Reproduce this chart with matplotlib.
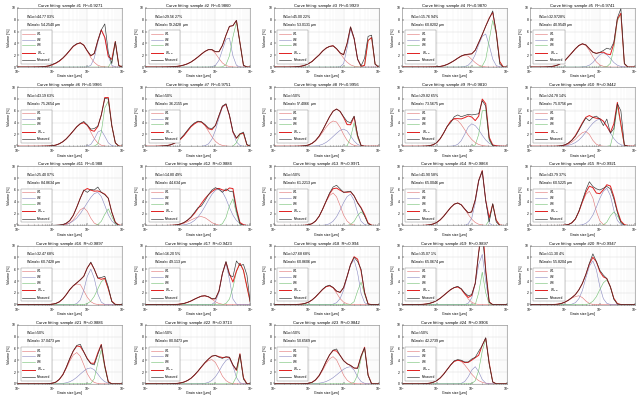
import numpy as np
import matplotlib
matplotlib.use('Agg')
import matplotlib.pyplot as plt

# size classes of the analyser, um
GRAIN = [1.0, 1.26, 1.58, 2.0, 2.51, 3.16, 3.98, 5.01, 6.31, 7.94,
         10.0, 12.6, 15.8, 20.0, 25.1, 31.6, 39.8, 50.1, 63.1, 79.4,
         100.0, 126.0, 158.0, 200.0, 251.0, 316.0, 398.0, 501.0, 631.0, 794.0, 1000.0]

R2 = ['0.9271', '0.9860', '0.9929', '0.9870', '0.9741', '0.9966', '0.9751', '0.9956',
      '0.9810', '0.9442', '0.988', '0.9884', '0.9971', '0.9868', '0.9921', '0.9897',
      '0.9423', '0.994', '0.9897', '0.9947', '0.9886', '0.9713', '0.9842', '0.9906']
W1_VOL = ['44.7703', '29.5627', '45.0022', '15.7694', '32.9728', '43.1963', '50', '50',
          '29.8265', '24.7814', '25.4007', '14.8049', '50', '41.9058', '43.7937', '32.4768',
          '16.205', '27.6868', '35.071', '11.304', '50', '50', '50', '50']
W1_MODE = ['54.2540', '59.2428', '53.0131', '60.8202', '40.9549', '75.2654', '36.2155', '57.4066',
           '73.5675', '75.0756', '84.8634', '44.634', '61.2213', '65.0046', '60.5225', '60.7428',
           '49.113', '60.8606', '65.0674', '55.8204', '37.0473', '80.0473', '50.6569', '42.2739']

# sample 1
meas01 = [0,0,0,0,0,.01,.02,.05,.1,.2,.45,.7,1.05,1.55,2.15,2.85,3.55,3.95,4.1,3.7,2.75,1.95,2.3,4.5,6.3,7.3,2.5,.6,4.3,.2,0]
w1_01 = [0,0,0,0,0,.01,.02,.05,.1,.2,.4,.65,1.0,1.5,2.1,2.8,3.5,3.9,4.1,3.7,2.7,1.6,.8,.3,.1,.03,0,0,0,0,0]
w2_01 = [0]*20 + [.02,.3,1.5,4.2,6.2,5.0,1.8,.3,.02,0,0]
w3_01 = [0]*27 + [1.0,4.3,.3,0]
# sample 2
meas02 = [0,0,0,0,0,.01,.02,.04,.07,.12,.2,.35,.55,.85,1.25,1.7,2.2,2.65,2.95,2.95,2.6,2.6,3.65,5.4,6.9,7.0,7.9,4.1,.3,0,0]
w1_02 = [0,0,0,0,0,.01,.02,.04,.07,.12,.2,.35,.55,.85,1.25,1.7,2.2,2.65,2.95,2.9,2.3,1.45,.7,.28,.08,.02,0,0,0,0,0]
w2_02 = [0]*19 + [.05,.3,1.15,2.9,4.7,4.9,1.9,.3,.02,0,0,0]
w3_02 = [0]*22 + [.05,.4,1.9,5.1,7.6,4.1,.3,0,0]
# sample 3
meas03 = [0,0,0,0,0,.01,.03,.08,.16,.32,.6,.95,1.5,2.05,2.7,3.2,3.5,3.6,3.1,2.4,2.1,4.0,6.8,4.85,1.35,.2,1.5,5.2,5.4,.5,0]
w1_03 = [0,0,0,0,0,.01,.03,.08,.16,.32,.58,.95,1.5,2.05,2.7,3.2,3.5,3.6,3.1,2.35,1.5,.82,.38,.15,.05,.01,0,0,0,0,0]
w2_03 = [0]*19 + [.04,.58,3.2,6.4,4.7,1.3,.13,0,0,0,0,0]
w3_03 = [0]*26 + [.3,4.5,5.0,.5,0]
# sample 4
meas04 = [0,0,0,0,0,0,0,0,.01,.02,.05,.11,.23,.45,.75,1.1,1.5,1.87,2.09,2.17,2.24,2.85,4.13,5.5,6.93,8.2,9.5,5.85,.5,0,0]
w1_04 = [0,0,0,0,0,0,0,0,.01,.02,.05,.11,.23,.45,.75,1.1,1.5,1.85,2.0,1.85,1.3,.75,.33,.11,.03,0,0,0,0,0,0]
w2_04 = [0]*17 + [.02,.09,.32,.94,2.1,3.8,5.2,5.6,3.7,1.35,.25,.03,0,0]
w3_04 = [0]*23 + [.19,1.3,4.6,7.9,5.6,.9,0,0]
# sample 5
meas05 = [0,0,0,0,.01,.03,.08,.18,.36,.67,1.1,1.75,2.4,3.1,3.65,3.95,3.75,3.1,2.5,2.3,2.5,2.8,3.2,3.0,4.2,8.3,9.9,.6,0,0,0]
w1_05 = [0,0,0,0,.01,.03,.08,.18,.36,.67,1.1,1.75,2.4,3.1,3.65,3.9,3.65,2.8,1.75,.87,.36,.13,.04,0,0,0,0,0,0,0,0]
w2_05 = [0]*15 + [.03,.1,.32,.77,1.46,2.1,2.4,2.1,1.46,.77,.32,.1,.03,0,0,0]
w3_05 = [0]*22 + [.06,.65,3.2,7.8,9.0,.55,0,0,0]
# sample 6
meas06 = [0,0,0,0,0,0,0,.01,.02,.04,.1,.2,.42,.77,1.26,1.9,2.6,3.3,3.85,4.2,3.6,2.9,3.0,3.4,5.3,8.1,8.0,3.5,.6,0,0]
w1_06 = [0,0,0,0,0,0,0,.01,.02,.04,.1,.2,.42,.77,1.26,1.9,2.6,3.3,3.8,4.0,3.5,2.4,1.3,.54,.18,.04,0,0,0,0,0]
w2_06 = [0]*20 + [.05,.32,1.2,2.4,2.7,1.7,.59,.11,.01,0,0]
w3_06 = [0]*22 + [.03,.4,2.4,6.5,7.65,3.4,.57,.03,0]
# sample 7
meas07 = [0,0,0,0,.02,.05,.1,.22,.45,.8,1.3,1.95,2.7,3.45,3.95,4.25,4.15,3.7,3.1,3.0,3.5,5.2,6.8,7.2,5.3,2.5,1.4,2.1,2.4,.3,0]
w1_07 = [0,0,0,0,.02,.05,.1,.22,.43,.74,1.2,1.8,2.55,3.3,3.8,4.15,4.1,3.5,2.55,1.6,.83,.37,.14,.05,.01,0,0,0,0,0,0]
w2_07 = [0]*17 + [.1,.4,1.2,2.7,4.8,6.6,7.05,5.2,2.4,.74,.14,0,0,0]
w3_07 = [0]*26 + [.6,1.96,2.2,.24,0]
# sample 8
meas08 = [0,0,0,0,0,0,0,.01,.03,.09,.22,.5,.97,1.71,2.69,3.85,5.0,5.93,6.3,5.9,5.0,4.2,4.0,5.1,1.9,.1,0,0,0,0,0]
w1_08 = [0,0,0,0,0,0,0,.01,.03,.09,.22,.47,.9,1.55,2.35,3.2,3.9,4.28,4.1,3.2,2.0,1.0,.43,.15,.04,.01,0,0,0,0,0]
w2_08 = [0]*11 + [.03,.07,.16,.34,.65,1.1,1.65,2.2,2.7,2.9,2.6,1.77,.88,.32,.08,.01,0,0,0,0]
w3_08 = [0]*21 + [.07,1.44,4.0,1.44,.07,0,0,0,0,0]
# sample 9
meas09 = [0,0,0,0,0,0,.01,.03,.1,.26,.62,1.3,2.25,3.4,4.0,5.0,5.3,5.0,5.2,5.4,5.3,5.4,5.5,7.7,6.8,1.2,.1,0,0,0,0]
w1_09 = [0,0,0,0,0,0,.01,.03,.1,.26,.62,1.28,2.25,3.36,4.24,4.6,4.36,3.68,2.8,1.88,1.15,.62,.3,.13,.05,.02,0,0,0,0,0]
w2_09 = [0]*14 + [.02,.08,.32,.95,2.05,3.25,3.8,3.5,2.8,1.85,1.06,.51,.21,.08,.02,0,0]
w3_09 = [0]*21 + [.22,2.0,6.0,6.1,.97,.02,0,0,0,0]
# sample 10
meas10 = [0,0,0,0,0,0,0,0,.02,.1,.25,.55,1.0,1.7,2.7,3.8,4.8,4.3,4.9,5.1,4.6,3.5,4.6,2.2,3.0,7.2,6.0,.2,0,0,0]
w1_10 = [0,0,0,0,0,0,0,0,.02,.05,.14,.35,.7,1.2,1.8,2.3,2.5,2.0,1.0,.35,.08,.01,0,0,0,0,0,0,0,0,0]
w2_10 = [0]*9 + [.03,.08,.17,.34,.62,1.05,1.65,2.4,3.2,3.9,4.4,4.6,4.23,3.36,2.25,1.3,.62,.26,.09,.03,0,0]
w3_10 = [0]*23 + [.1,2.5,6.8,3.5,.1,0,0,0]
# sample 11
meas11 = [0,0,0,0,0,0,0,0,0,0,.02,.05,.08,.15,.4,.85,1.7,3.1,4.6,6.0,5.6,6.1,6.0,6.5,5.6,5.2,4.6,2.2,.5,0,0]
w1_11 = [0]*13 + [.03,.13,.4,.96,1.83,2.64,3.0,2.4,1.23,.4,.09,.01,0,0,0,0,0,0]
w2_11 = [0]*12 + [.04,.1,.21,.41,.76,1.27,2.0,2.9,3.85,4.75,5.4,5.6,4.9,3.4,1.8,.76,.24,.06,0]
w3_11 = [0]*23 + [.15,.7,1.9,2.8,1.5,.3,0,0]
# sample 12
meas12 = [0,0,0,0,0,0,0,.02,.04,.1,.25,.5,.9,1.45,2.2,3.0,3.3,4.2,5.2,6.0,6.4,6.1,5.6,6.2,5.8,5.7,2.5,.3,0,0,0]
w1_12 = [0,0,0,0,0,0,0,.02,.04,.1,.2,.38,.62,.92,1.2,1.43,1.5,1.32,.92,.48,.2,.07,.02,0,0,0,0,0,0,0,0]
w2_12 = [0]*10 + [.04,.1,.23,.45,.84,1.43,2.23,3.22,4.28,5.27,5.95,6.2,5.7,4.53,3.04,1.74,.84,.35,.12,0,0]
w3_12 = [0]*22 + [.3,1.35,3.3,4.5,2.0,.15,0,0,0]
# sample 13
meas13 = [0,0,0,0,0,0,0,0,0,.03,.11,.31,.74,1.57,2.75,4.1,5.5,6.5,6.8,6.2,5.6,5.7,5.8,5.0,3.8,2.9,1.6,.3,0,0,0]
w1_13 = [0,0,0,0,0,0,0,0,0,.03,.11,.31,.74,1.54,2.7,4.0,5.06,5.5,4.84,3.36,1.76,.74,.24,.06,.01,0,0,0,0,0,0]
w2_13 = [0]*14 + [.03,.1,.3,.72,1.48,2.6,3.87,4.88,5.3,4.24,2.17,.72,.16,.02,0,0,0]
w3_13 = [0]*22 + [.16,.69,1.7,2.3,1.7,.4,.03,0,0]
# sample 14
meas14 = [0,0,0,0,0,0,.01,.04,.11,.25,.51,.95,1.56,2.32,3.04,3.6,3.8,3.5,2.78,2.14,2.3,4.3,7.6,9.2,4.2,.6,3.7,.6,0,0,0]
w1_14 = [0,0,0,0,0,0,.01,.04,.11,.25,.51,.95,1.56,2.32,3.04,3.6,3.8,3.5,2.78,1.86,1.06,.51,.21,.08,.02,0,0,0,0,0,0]
w2_14 = [0]*19 + [.28,1.24,3.8,7.4,9.2,4.2,.4,0,0,0,0,0]
w3_14 = [0]*25 + [.89,3.6,.89,.06,0,0]
# sample 15
meas15 = [0,0,0,0,0,0,0,0,0,.01,.05,.15,.45,1.1,2.4,4.2,6.0,7.4,6.6,6.2,6.0,6.3,6.6,6.2,4.5,2.2,.5,0,0,0,0]
w1_15 = [0,0,0,0,0,0,0,0,0,.01,.05,.15,.45,1.1,2.3,3.9,5.25,5.8,4.64,2.38,.78,.16,.02,0,0,0,0,0,0,0,0]
w2_15 = [0]*14 + [.04,.12,.35,.85,1.76,3.1,4.6,5.8,6.3,5.04,2.58,.85,.18,.03,0,0,0]
w3_15 = [0]*21 + [.1,.57,1.63,2.3,1.63,.57,.1,0,0,0]
# sample 16
meas16 = [0,0,0,0,0,0,0,0,0,.02,.07,.2,.47,.98,1.7,2.55,3.2,3.7,4.2,4.8,6.2,7.2,6.0,4.5,4.6,4.8,3.0,.5,0,0,0]
w1_16 = [0,0,0,0,0,0,0,0,0,.02,.07,.2,.47,.98,1.7,2.55,3.2,3.5,3.4,2.35,1.25,.5,.15,.03,0,0,0,0,0,0,0]
w2_16 = [0]*17 + [.18,.81,2.46,4.8,6.0,4.44,1.8,.42,.05,0,0,0,0,0]
w3_16 = [0]*20 + [.19,.59,1.41,2.68,3.87,4.4,2.68,.59,.05,0,0]
# sample 17
meas17 = [0,0,0,0,0,0,0,0,.02,.04,.1,.2,.38,.62,.92,1.2,1.45,1.5,1.35,1.0,1.0,2.3,5.3,7.3,5.0,4.7,7.4,6.6,6.8,5.0,0]
w1_17 = [0,0,0,0,0,0,0,0,.02,.04,.1,.2,.38,.62,.92,1.2,1.43,1.5,1.32,.92,.48,.2,.07,.02,0,0,0,0,0,0,0]
w2_17 = [0]*19 + [.06,.5,2.1,5.2,7.0,4.27,.95,.08,0,0,0,0]
w3_17 = [0]*23 + [.2,.95,2.87,5.6,7.0,5.8,3.0,.3]
# sample 18
meas18 = [0,0,0,0,0,0,.01,.04,.09,.21,.43,.8,1.31,1.95,2.6,3.1,3.3,2.9,2.3,2.1,2.9,4.8,6.8,8.0,7.3,6.0,2.0,.1,0,0,0]
w1_18 = [0,0,0,0,0,0,.01,.04,.09,.21,.43,.8,1.31,1.95,2.56,3.04,3.2,2.82,1.95,1.02,.43,.14,.04,0,0,0,0,0,0,0,0]
w2_18 = [0]*17 + [.08,.33,1.03,2.43,4.64,6.7,7.6,5.4,1.9,.33,.03,0,0,0]
w3_18 = [0]*22 + [.04,.51,2.3,3.8,1.75,.1,0,0,0]
# sample 19
meas19 = [0,0,0,0,0,.02,.05,.11,.22,.41,.69,1.08,1.56,2.07,2.55,2.9,3.1,2.7,2.0,1.5,1.7,3.6,8.8,12.5,5.5,.4,0,0,0,0,0]
w1_19 = [0,0,0,0,0,.02,.05,.11,.22,.41,.69,1.08,1.56,2.07,2.55,2.88,3.0,2.64,1.83,.96,.41,.13,.03,0,0,0,0,0,0,0,0]
w2_19 = [0]*19 + [.25,1.15,3.5,6.8,8.5,3.9,.37,0,0,0,0,0]
w3_19 = [0]*22 + [2.0,5.5,2.0,.09,0,0,0,0,0]
# sample 20
meas20 = [0,0,0,0,0,0,0,.03,.08,.2,.42,.75,1.2,1.7,2.5,3.6,5.1,7.0,8.6,7.3,5.8,5.0,4.4,3.0,.9,.1,0,0,0,0,0]
w1_20 = [0,0,0,0,0,0,0,.03,.08,.2,.42,.73,1.1,1.38,1.5,1.2,.62,.2,.04,0,0,0,0,0,0,0,0,0,0,0,0]
w2_20 = [0]*11 + [.02,.08,.33,1.0,2.37,4.5,6.5,7.4,5.92,3.03,1.0,.22,.03,0,0,0,0,0,0,0]
w3_20 = [0]*17 + [.18,.57,1.34,2.56,3.7,4.2,2.98,1.05,.18,.02,0,0,0,0]
# sample 21
meas21 = [0,0,0,0,0,0,0,0,0,.03,.1,.29,.75,1.55,2.8,4.3,5.6,6.5,6.7,5.4,4.2,3.4,3.2,5.0,6.6,3.0,.3,0,0,0,0]
w1_21 = [0,0,0,0,0,0,0,0,0,.03,.1,.29,.72,1.48,2.6,3.87,4.88,5.3,4.66,3.23,1.7,.72,.23,.06,0,0,0,0,0,0,0]
w2_21 = [0]*12 + [.03,.07,.18,.36,.67,1.11,1.65,2.16,2.57,2.7,2.37,1.65,.87,.36,.12,0,0,0,0]
w3_21 = [0]*21 + [.07,.88,3.54,5.8,2.67,.25,0,0,0,0]
# sample 22
meas22 = [0,0,0,0,0,0,0,.01,.03,.07,.15,.3,.55,.94,1.5,2.15,2.9,3.6,4.2,4.7,4.8,4.5,4.3,4.6,4.5,3.2,2.4,5.0,.8,0,0]
w1_22 = [0,0,0,0,0,0,0,.01,.03,.07,.15,.3,.55,.94,1.48,2.13,2.83,3.49,3.94,4.1,3.61,2.5,1.31,.55,.18,.05,0,0,0,0,0]
w2_22 = [0]*16 + [.03,.09,.24,.58,1.2,2.1,3.14,3.96,4.3,3.05,1.08,.19,0,0,0]
w3_22 = [0]*25 + [.08,1.2,4.9,1.0,0,0]
# sample 23
meas23 = [0,0,0,0,0,0,0,0,0,.03,.09,.26,.67,1.4,2.5,3.8,4.9,5.7,5.9,4.8,3.9,3.4,3.1,2.7,2.6,4.7,6.1,1.4,0,0,0]
w1_23 = [0,0,0,0,0,0,0,0,0,.03,.09,.26,.62,1.29,2.25,3.36,4.23,4.6,4.05,2.81,1.47,.62,.2,.05,0,0,0,0,0,0,0]
w2_23 = [0]*12 + [.05,.11,.21,.39,.67,1.04,1.51,2.0,2.47,2.78,2.9,2.32,1.19,.39,.09,0,0,0,0]
w3_23 = [0]*22 + [.02,.27,1.5,4.3,6.1,1.5,.02,0,0]
# sample 24
meas24 = [0,0,0,0,0,0,.01,.04,.11,.26,.54,1.0,1.64,2.44,3.2,3.9,4.1,4.0,3.7,3.7,4.2,4.5,5.5,6.5,7.8,3.3,.3,0,0,0,0]
w1_24 = [0,0,0,0,0,0,.01,.04,.11,.26,.54,1.0,1.64,2.44,3.2,3.8,4.0,3.8,3.2,2.44,1.64,1.0,.54,.26,.11,.04,0,0,0,0,0]
w2_24 = [0]*17 + [.08,.39,1.19,2.32,2.9,2.05,.72,.13,.01,0,0,0,0,0]
w3_24 = [0]*20 + [.05,.52,2.25,5.55,7.5,3.45,.33,0,0,0,0]

SAMPLES = [
    (meas01, w1_01, w2_01, w3_01), (meas02, w1_02, w2_02, w3_02), (meas03, w1_03, w2_03, w3_03),
    (meas04, w1_04, w2_04, w3_04), (meas05, w1_05, w2_05, w3_05), (meas06, w1_06, w2_06, w3_06),
    (meas07, w1_07, w2_07, w3_07), (meas08, w1_08, w2_08, w3_08), (meas09, w1_09, w2_09, w3_09),
    (meas10, w1_10, w2_10, w3_10), (meas11, w1_11, w2_11, w3_11), (meas12, w1_12, w2_12, w3_12),
    (meas13, w1_13, w2_13, w3_13), (meas14, w1_14, w2_14, w3_14), (meas15, w1_15, w2_15, w3_15),
    (meas16, w1_16, w2_16, w3_16), (meas17, w1_17, w2_17, w3_17), (meas18, w1_18, w2_18, w3_18),
    (meas19, w1_19, w2_19, w3_19), (meas20, w1_20, w2_20, w3_20), (meas21, w1_21, w2_21, w3_21),
    (meas22, w1_22, w2_22, w3_22), (meas23, w1_23, w2_23, w3_23), (meas24, w1_24, w2_24, w3_24),
]

plt.rcParams['font.family'] = ['Liberation Sans', 'DejaVu Sans']
plt.rcParams['mathtext.fontset'] = 'custom'
plt.rcParams['mathtext.rm'] = 'Liberation Sans'
plt.rcParams['mathtext.it'] = 'Liberation Sans'
plt.rcParams['axes.linewidth'] = 0.4

fig = plt.figure(figsize=(6.4, 3.99), dpi=100)
gs = fig.add_gridspec(5, 5, left=0.027, right=0.992, top=0.980, bottom=0.038,
                      wspace=0.22, hspace=0.34)

for k, (meas, w1, w2, w3) in enumerate(SAMPLES):
    ax = fig.add_subplot(gs[k // 5, k % 5])
    wsum = np.array(w1) + np.array(w2) + np.array(w3)
    ax.plot(GRAIN, w1, color='#e07070', lw=0.4, label='W1')
    ax.plot(GRAIN, w2, color='#8888c0', lw=0.4, label='W2')
    ax.plot(GRAIN, w3, color='#70c070', lw=0.4, label='W3')
    ax.plot(GRAIN, wsum, color='#e02020', lw=0.7, label='W$_{sum}$')
    ax.plot(GRAIN, meas, color='#303030', lw=0.45, label='Measured')
    ax.set_xscale('log')
    ax.set_xlim(1, 1000)
    ax.set_ylim(0, 10)
    ax.set_yticks([0, 2, 4, 6, 8, 10])
    ax.grid(True, which='major', color='#d8d8d8', lw=0.3)
    ax.grid(True, which='minor', axis='x', color='#ececec', lw=0.25)
    ax.tick_params(which='both', direction='in', labelsize=2.4, length=1.2, width=0.3)
    ax.tick_params(axis='x', pad=1.0)
    ax.tick_params(axis='y', pad=1.1)
    ax.tick_params(which='minor', length=0.7)
    for s in ax.spines.values():
        s.set_color('#808080')
    ax.set_title('Curve fitting: sample #%d  R\u00b2=%s' % (k + 1, R2[k]), fontsize=3.0, pad=0.6)
    ax.set_xlabel('Grain size [\u03bcm]', fontsize=2.6)
    ax.xaxis.set_label_coords(0.5, -0.125)
    ax.set_ylabel('Volume [%]', fontsize=2.6, labelpad=0.8)
    ax.text(0.08, 0.83, 'W1$_{vol}$=%s%%' % W1_VOL[k], transform=ax.transAxes, fontsize=2.6)
    ax.text(0.08, 0.70, 'W1$_{mode}$=%s \u03bcm' % W1_MODE[k], transform=ax.transAxes, fontsize=2.6)
    leg = ax.legend(loc='lower left', fontsize=2.2, handlelength=4, borderpad=0.5,
                    labelspacing=0.55, handletextpad=0.8, fancybox=False, framealpha=1,
                    bbox_to_anchor=(0.02, 0.03))
    leg.get_frame().set_linewidth(0.3)
    leg.get_frame().set_edgecolor('#808080')

fig.savefig('out.png', dpi=100, facecolor='white')
